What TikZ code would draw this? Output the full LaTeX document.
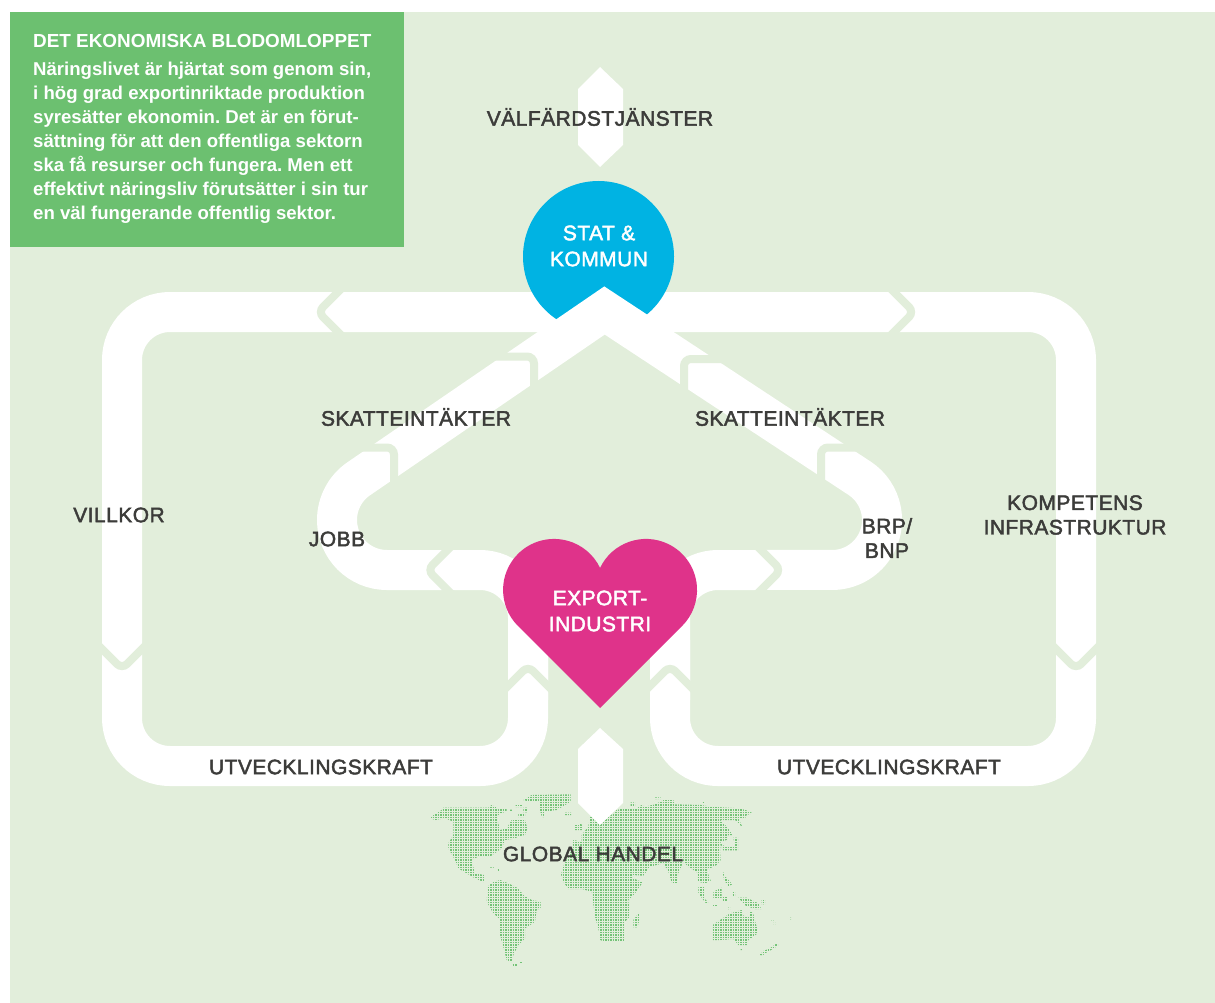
\documentclass[tikz,border=0pt]{standalone}
\usepackage{fontspec}
\setmainfont{Liberation Sans}
\newfontfamily\lblfont[LetterSpace=2.2]{Liberation Sans}
\newfontfamily\boxfont[Ligatures=NoCommon]{Liberation Sans}
\definecolor{bg}{HTML}{E2EEDB}
\definecolor{boxg}{HTML}{6CC070}
\definecolor{cyanb}{HTML}{00B3E3}
\definecolor{magb}{HTML}{DF338A}
\definecolor{ink}{HTML}{3C3C3A}
\tikzset{
 band/.style={draw=white,line width=40pt,line join=miter,miter limit=10},
 gapline/.style={draw=bg,line width=8pt,rounded corners=7pt},
 heavier/.style={execute at begin node={\special{pdf:code 2 Tr 0.45 w}},execute at end node={\special{pdf:code 0 Tr 1 w}}},
 lbl/.style={heavier,text=ink,inner sep=0pt,align=center,font=\lblfont\fontsize{21}{24.5}\selectfont},
 wlbl/.style={heavier,text=white,inner sep=0pt,align=center,font=\lblfont\fontsize{21}{26}\selectfont},
 arrowshape/.style={fill=white,draw=none},
}
\newcommand{\mapgrid}{%
 \foreach \i in {0,...,78}{%
  \draw[boxg!95!white,line width=1.6pt,dash pattern=on 1.6pt off 0.9pt] (0,-7.5*\i) -- (600,-7.5*\i);
 }}
\begin{document}
\begin{tikzpicture}[x=1pt,y=1pt]
\useasboundingbox (0,0) rectangle (1215,-1003);
\fill[bg] (10,-12) rectangle (1215,-1003);
% map west
\begin{scope}[shift={(425,-785)},x=0.33333pt,y=0.33333pt]
\begin{scope}
\clip (18,-100)--(18,-95)--(50,-75)--(55,-68)--(190,-68)--(200,-60)--(212,-66)--(215,-72)--(245,-70)--(245,-80)--(225,-85)--(215,-95)--(225,-135)--(245,-130)--(260,-105)--(300,-105)--(307,-130)--(300,-150)--(275,-155)--(275,-160)--(240,-165)--(230,-190)--(195,-215)--(160,-215)--(140,-225)--(150,-265)--(178,-270)--(178,-292)--(150,-280)--(125,-265)--(100,-250)--(90,-225)--(70,-190)--(70,-175)--(85,-150)--(85,-110)--(60,-100)--(30,-105)--cycle
 (272,-60) rectangle (292,-66) (295,-68) rectangle (307,-82) (280,-85) rectangle (300,-96) (255,-74) rectangle (262,-80) (195,-243) rectangle (208,-248) (216,-252) rectangle (222,-258)
 (295,-45)--(320,-30)--(437,-28)--(437,-50)--(420,-60)--(395,-75)--(360,-80)--(353,-102)--(346,-80)--(342,-50)--(300,-47)--cycle
 (418,-83) rectangle (438,-90)
 (188,-305)--(205,-290)--(225,-285)--(250,-295)--(280,-310)--(295,-330)--(320,-345)--(347,-350)--(347,-370)--(335,-375)--(330,-410)--(300,-430)--(300,-460)--(280,-480)--(265,-510)--(262,-532)--(245,-525)--(240,-505)--(225,-450)--(222,-400)--(205,-385)--(185,-350)--cycle
 (263,-537) rectangle (277,-543) (285,-529) rectangle (292,-534)
 (448,-120) rectangle (472,-135) (462,-115) rectangle (470,-120)
 (495,-95)--(600,-95)--(600,-470)--(530,-468)--(510,-395)--(500,-320)--(470,-312)--(430,-312)--(415,-290)--(408,-268)--(418,-235)--(440,-195)--(445,-165)--(470,-170)--(470,-150)--(490,-125)--cycle;
\mapgrid
\end{scope}
\end{scope}
% map east
\begin{scope}[shift={(600,-785)},x=0.33333pt,y=0.33333pt]
\begin{scope}
\clip (0,-120)--(50,-75)--(70,-70)--(110,-70)--(125,-60)--(135,-65)--(165,-58)--(190,-45)--(220,-45)--(225,-58)--(305,-60)--(330,-65)--(420,-70)--(445,-78)--(458,-85)--(440,-90)--(435,-100)--(415,-100)--(428,-128)--(405,-105)--(360,-105)--(385,-130)--(397,-150)--(385,-150)--(380,-165)--(362,-170)--(360,-200)--(362,-225)--(350,-240)--(320,-255)--(332,-287)--(315,-295)--(295,-290)--(290,-260)--(270,-250)--(250,-230)--(235,-265)--(230,-297)--(215,-292)--(205,-260)--(190,-235)--(150,-245)--(130,-272)--(95,-270)--(80,-250)--(80,-240)--(100,-280)--(128,-292)--(105,-325)--(85,-345)--(90,-395)--(60,-425)--(45,-450)--(35,-465)--(0,-465)--cycle
 (400,-158)--(414,-158)--(414,-196)--(368,-196)--(362,-175)--(375,-185)--(405,-185)--cycle
 (162,-37) rectangle (182,-42) (307,-50) rectangle (313,-56) (92,-52) rectangle (105,-65)
 (118,-382)--(120,-400)--(112,-427)--(100,-427)--(100,-405)--cycle
 (295,-305)--(312,-305)--(312,-340)--(325,-352)--(318,-355)--(295,-325)--cycle
 (340,-320)--(365,-308)--(365,-340)--(340,-340)--cycle
 (368,-258)--(376,-275)--(397,-298)--(385,-303)--(372,-285)--cycle
 (368,-335)--(382,-335)--(382,-350)--(368,-350)--cycle
 (337,-360) rectangle (352,-364) (398,-320) rectangle (405,-333) (385,-367) rectangle (390,-373)
 (415,-338)--(440,-338)--(475,-355)--(484,-372)--(465,-372)--(437,-362)--cycle
 (485,-345) rectangle (495,-358)
 (338,-420)--(360,-405)--(390,-385)--(425,-375)--(430,-392)--(448,-395)--(448,-377)--(458,-380)--(470,-425)--(473,-445)--(445,-465)--(440,-480)--(415,-480)--(400,-462)--(360,-465)--(338,-465)--cycle
 (422,-489) rectangle (428,-495)
 (478,-510)--(490,-498)--(510,-490)--(530,-475)--(535,-480)--(522,-490)--(500,-502)--(488,-511)--cycle
 (515,-405) rectangle (520,-410) (521,-413) rectangle (526,-418) (568,-398) rectangle (573,-403);
\mapgrid
\end{scope}
\end{scope}
% vertical arrows
\fill[arrowshape] (600,-67)--(623,-89)--(623,-145)--(600,-167)--(578,-145)--(578,-89)--cycle;
\fill[arrowshape] (600,-728)--(623,-749)--(623,-803)--(600,-825)--(578,-803)--(578,-749)--cycle;
% outer bands
\draw[band] (600,-312) -- (170,-312) arc[start angle=90,end angle=180,radius=48] -- (122,-718) arc[start angle=180,end angle=270,radius=48] -- (480,-766) arc[start angle=270,end angle=360,radius=48] -- (528,-640);
\draw[band] (600,-312) -- (1028,-312) arc[start angle=90,end angle=0,radius=48] -- (1076,-718) arc[start angle=0,end angle=-90,radius=48] -- (718,-766) arc[start angle=270,end angle=180,radius=48] -- (670,-640);
% stat circle
\fill[cyanb] (598.5,-256.5) circle[radius=75.5];
% inner bands
\draw[band] (528,-700) -- (528,-618) arc[start angle=0,end angle=90,radius=48] -- (387,-570) arc[start angle=270,end angle=124.4,radius=50] -- (604.5,-310.5) -- (859.5,-478.2) arc[start angle=56.7,end angle=-90,radius=50] -- (718,-570) arc[start angle=90,end angle=180,radius=48] -- (670,-700);
% gaps
\draw[gapline] (343,-287)--(318,-312)--(343,-337);
\draw[gapline] (889,-287)--(914,-312)--(889,-337);
\draw[gapline] (97,-644)--(122,-669)--(147,-644);
\draw[gapline] (1051,-644)--(1076,-669)--(1101,-644);
\draw[gapline] (503,-691)--(528,-666)--(553,-691);
\draw[gapline] (645,-691)--(670,-666)--(695,-691);
\draw[gapline] (452.5,-545)--(427.5,-570)--(452.5,-595);
\draw[gapline] (756,-545)--(781,-570)--(756,-595);
\draw[gapline] (495,-356.5)--(534,-356.5)--(534,-395);
\draw[gapline] (360,-447.5)--(394,-447.5)--(394,-495);
\draw[gapline] (725,-359)--(684,-359)--(684,-400);
\draw[gapline] (860,-447.5)--(821,-447.5)--(821,-495);
% heart
\fill[magb] (600,-708) -- (518,-626) arc[start angle=225,end angle=25.6,radius=51] arc[start angle=154.4,end angle=-45,radius=51] -- cycle;
% info box
\fill[boxg] (10,-12) rectangle (404,-247);
\node[anchor=north west,inner sep=0pt,text=white,align=left,font=\boxfont\bfseries\frenchspacing\fontsize{18.6}{24}\selectfont] (info) at (33,-34.5) {\fontsize{18.9}{24}\selectfont DET EKONOMISKA BLODOMLOPPET\\[4pt]
Näringslivet är hjärtat som genom sin,\\
i hög grad exportinriktade produktion\\
syresätter ekonomin. Det är en förut-\\
sättning för att den offentliga sektorn\\
ska få resurser och fungera. Men ett\\
effektivt näringsliv förutsätter i sin tur\\
en väl fungerande offentlig sektor.};
% labels
\node[lbl] (valfard) at (600,-117) {VÄLFÄRDSTJÄNSTER};
\node[wlbl] (stat) at (599,-246) {STAT \&\\KOMMUN};
\node[wlbl] (export) at (600,-611) {EXPORT-\\INDUSTRI};
\node[lbl] (skattL) at (416,-417) {SKATTEINTÄKTER};
\node[lbl] (skattR) at (790,-417) {SKATTEINTÄKTER};
\node[lbl] (villkor) at (119,-515) {VILLKOR};
\node[lbl] (jobb) at (337,-539) {JOBB};
\node[lbl] (brp) at (887,-538) {BRP/\\BNP};
\node[lbl] (kompetens) at (1075,-515) {KOMPETENS\\INFRASTRUKTUR};
\node[lbl] (utvL) at (321,-767) {UTVECKLINGSKRAFT};
\node[lbl] (utvR) at (889,-767) {UTVECKLINGSKRAFT};
\node[lbl] (global) at (593,-854) {GLOBAL HANDEL};
\end{tikzpicture}
\end{document}
